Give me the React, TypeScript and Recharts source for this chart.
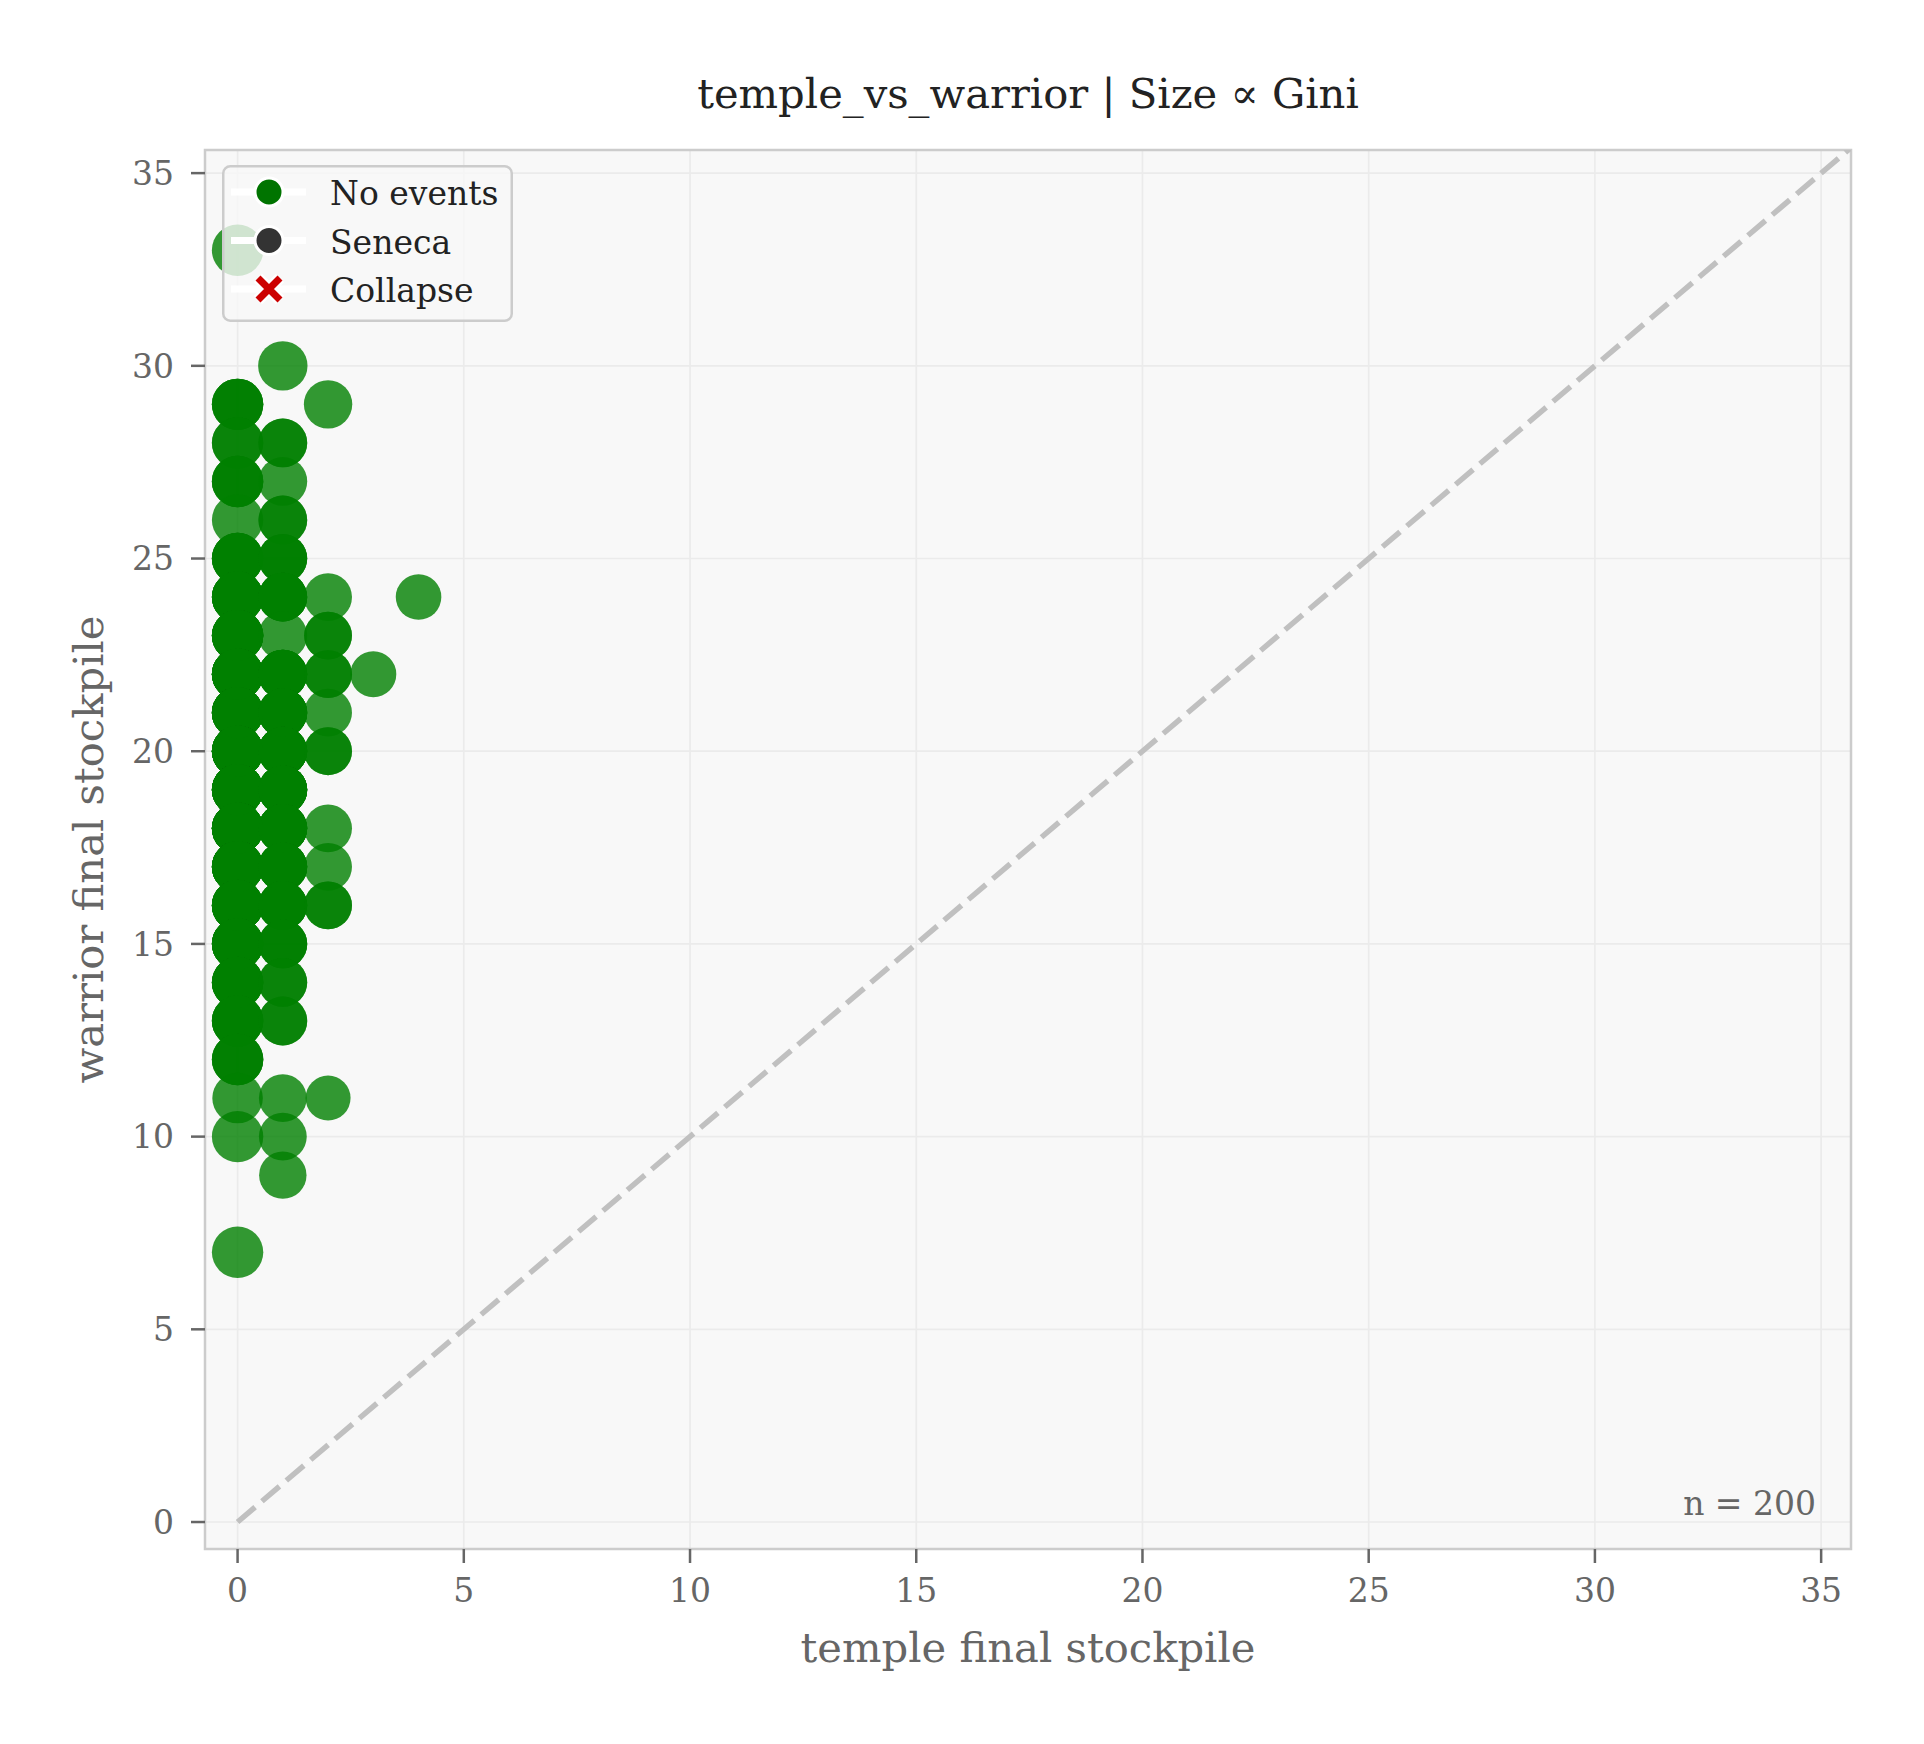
import {
  ScatterChart,
  Scatter,
  XAxis,
  YAxis,
  ZAxis,
  CartesianGrid,
  ReferenceLine,
  ReferenceArea,
  Legend,
} from "recharts";

// one entry per occupied (temple, warrior) cell
const cellTemple = [
  0, 0, 0, 0, 0, 0, 0, 0, 0, 0, 0, 0, 0, 0, 0, 0, 0, 0, 0, 0, 0, 0,
  1, 1, 1, 1, 1, 1, 1, 1, 1, 1, 1, 1, 1, 1, 1, 1, 1, 1, 1, 1,
  2, 2, 2, 2, 2, 2, 2, 2, 2, 2,
  3, 4,
];
const cellWarrior = [
  33, 29, 28, 27, 26, 25, 24, 23, 22, 21, 20, 19, 18, 17, 16, 15, 14, 13, 12, 11, 10, 7,
  30, 28, 27, 26, 25, 24, 23, 22, 21, 20, 19, 18, 17, 16, 15, 14, 13, 11, 10, 9,
  29, 24, 23, 22, 21, 20, 18, 17, 16, 11,
  22, 24,
];
const cellCount = [
  1, 3, 2, 3, 1, 4, 6, 7, 9, 10, 12, 12, 11, 9, 8, 7, 5, 4, 3, 1, 1, 1,
  1, 2, 1, 2, 3, 4, 1, 5, 6, 7, 7, 6, 5, 4, 3, 2, 2, 1, 1, 1,
  1, 1, 2, 2, 1, 2, 1, 1, 2, 1,
  1, 1,
];
const cellGini = [
  0.3, 0.3, 0.3, 0.3, 0.3, 0.3, 0.3, 0.3, 0.3, 0.3, 0.3, 0.3, 0.3, 0.3, 0.3, 0.3, 0.3, 0.3, 0.3, 0.29, 0.3, 0.3,
  0.277, 0.27, 0.27, 0.27, 0.27, 0.27, 0.27, 0.27, 0.27, 0.27, 0.27, 0.27, 0.27, 0.27, 0.27, 0.27, 0.27, 0.26, 0.26, 0.255,
  0.266, 0.26, 0.26, 0.26, 0.26, 0.26, 0.26, 0.26, 0.26, 0.23,
  0.24, 0.236,
];

const axisTicks = [0, 5, 10, 15, 20, 25, 30, 35];
const xDomain = [-0.72, 35.66];
const yDomain = [-0.7, 35.6];

const legendItems = [
  { label: "No events", color: "#007400", shape: "circle" },
  { label: "Seneca", color: "#333333", shape: "circle" },
  { label: "Collapse", color: "#cc0000", shape: "cross" },
];

// one scatter point per run (n = 200)
const points: { temple: number; warrior: number; gini: number }[] = [];
cellTemple.forEach((t, i) => {
  for (let k = 0; k < cellCount[i]; k++) {
    points.push({ temple: t, warrior: cellWarrior[i], gini: cellGini[i] });
  }
});

const FONT = "DejaVu Serif";
const tickStyle = { fill: "#666666", fontSize: 33, fontFamily: FONT };
const LABEL_SIZE = 41.7;

const crossPath = (cx: number, cy: number, h: number) =>
  `M${cx - h},${cy - h} L${cx + h},${cy + h} M${cx + h},${cy - h} L${cx - h},${cy + h}`;

const renderLegend = () => (
  <svg width={291} height={157} style={{ display: "block" }}>
    <rect
      x={1.25}
      y={1.25}
      width={288.5}
      height={154.5}
      rx={7}
      fill="#f8f8f8"
      fillOpacity={0.8}
      stroke="#cccccc"
      strokeWidth={2.5}
    />
    {legendItems.map((item, i) => {
      const cy = 27 + i * 48.5;
      return (
        <g key={item.label}>
          <line x1={9} x2={84} y1={cy} y2={cy} stroke="#ffffff" strokeWidth={7} />
          {item.shape === "circle" ? (
            <circle cx={47} cy={cy} r={14} fill={item.color} stroke="#ffffff" strokeWidth={3} />
          ) : (
            <g>
              <path d={crossPath(47, cy, 11)} stroke="#ffffff" strokeWidth={12} />
              <path d={crossPath(47, cy, 11)} stroke={item.color} strokeWidth={7} />
            </g>
          )}
          <text x={108} y={cy + 13} fontSize={33} fontFamily={FONT} fill="#222222">
            {item.label}
          </text>
        </g>
      );
    })}
  </svg>
);

const TemplePlot = () => {
  return (
    <div style={{ position: "relative", width: 1924, height: 1744, margin: "-8px", background: "#ffffff" }}>
      <ScatterChart
        width={1924}
        height={1744}
        margin={{ top: 149, right: 73, bottom: 194, left: 204 }}
      >
        <CartesianGrid stroke="#ebebeb" strokeWidth={1.7} fill="#f8f8f8" />
        <XAxis
          type="number"
          dataKey="temple"
          domain={xDomain}
          ticks={axisTicks}
          allowDataOverflow
          height={1}
          axisLine={false}
          tickSize={14}
          tickMargin={16}
          tickLine={{ stroke: "#666666", strokeWidth: 2.5 }}
          tick={tickStyle}
          label={{
            content: ({ viewBox }: any) => (
              <text
                x={viewBox.x + viewBox.width / 2}
                y={1662}
                textAnchor="middle"
                fontSize={LABEL_SIZE}
                fontFamily={FONT}
                fill="#666666"
              >
                temple final stockpile
              </text>
            ),
          }}
        />
        <XAxis
          xAxisId="title"
          orientation="top"
          type="number"
          domain={xDomain}
          height={1}
          axisLine={false}
          tickLine={false}
          tick={false}
          label={{
            content: ({ viewBox }: any) => (
              <text
                x={viewBox.x + viewBox.width / 2}
                y={108}
                textAnchor="middle"
                fontSize={LABEL_SIZE}
                fontFamily={FONT}
                fill="#222222"
              >
                temple_vs_warrior | Size ∝ Gini
              </text>
            ),
          }}
        />
        <YAxis
          type="number"
          dataKey="warrior"
          domain={yDomain}
          ticks={axisTicks}
          allowDataOverflow
          width={1}
          axisLine={false}
          tickSize={14}
          tickMargin={17}
          tickLine={{ stroke: "#666666", strokeWidth: 2.5 }}
          tick={tickStyle}
          label={{
            content: ({ viewBox }: any) => {
              const x = 103;
              const y = viewBox.y + viewBox.height / 2;
              return (
                <text
                  x={x}
                  y={y}
                  transform={`rotate(-90 ${x} ${y})`}
                  textAnchor="middle"
                  fontSize={LABEL_SIZE}
                  fontFamily={FONT}
                  fill="#666666"
                >
                  warrior final stockpile
                </text>
              );
            },
          }}
        />
        <ZAxis type="number" dataKey="gini" domain={[0, 1]} range={[0, 6917]} />
        <ReferenceLine
          segment={[
            { x: 0, y: 0 },
            { x: 36, y: 36 },
          ]}
          ifOverflow="hidden"
          stroke="#c0c0c0"
          strokeWidth={5.5}
          strokeDasharray="23 9"
        />
        <Scatter
          data={points}
          fill="#008000"
          fillOpacity={0.8}
          isAnimationActive={false}
        />
        <ReferenceArea
          x1={xDomain[0]}
          x2={xDomain[1]}
          y1={yDomain[0]}
          y2={yDomain[1]}
          fill="none"
          stroke="#cccccc"
          strokeWidth={2.5}
          label={{
            content: ({ viewBox }: any) => (
              <text
                x={viewBox.x + viewBox.width - 35}
                y={viewBox.y + viewBox.height - 34}
                textAnchor="end"
                fontSize={33}
                fontFamily={FONT}
                fill="#666666"
              >
                n = 200
              </text>
            ),
          }}
        />
        <Legend
          layout="vertical"
          align="center"
          verticalAlign="middle"
          content={renderLegend}
          wrapperStyle={{ left: 222, top: 165, width: 291, height: 157 }}
        />
      </ScatterChart>
    </div>
  );
};

export default function App() {
  return <TemplePlot />;
}
